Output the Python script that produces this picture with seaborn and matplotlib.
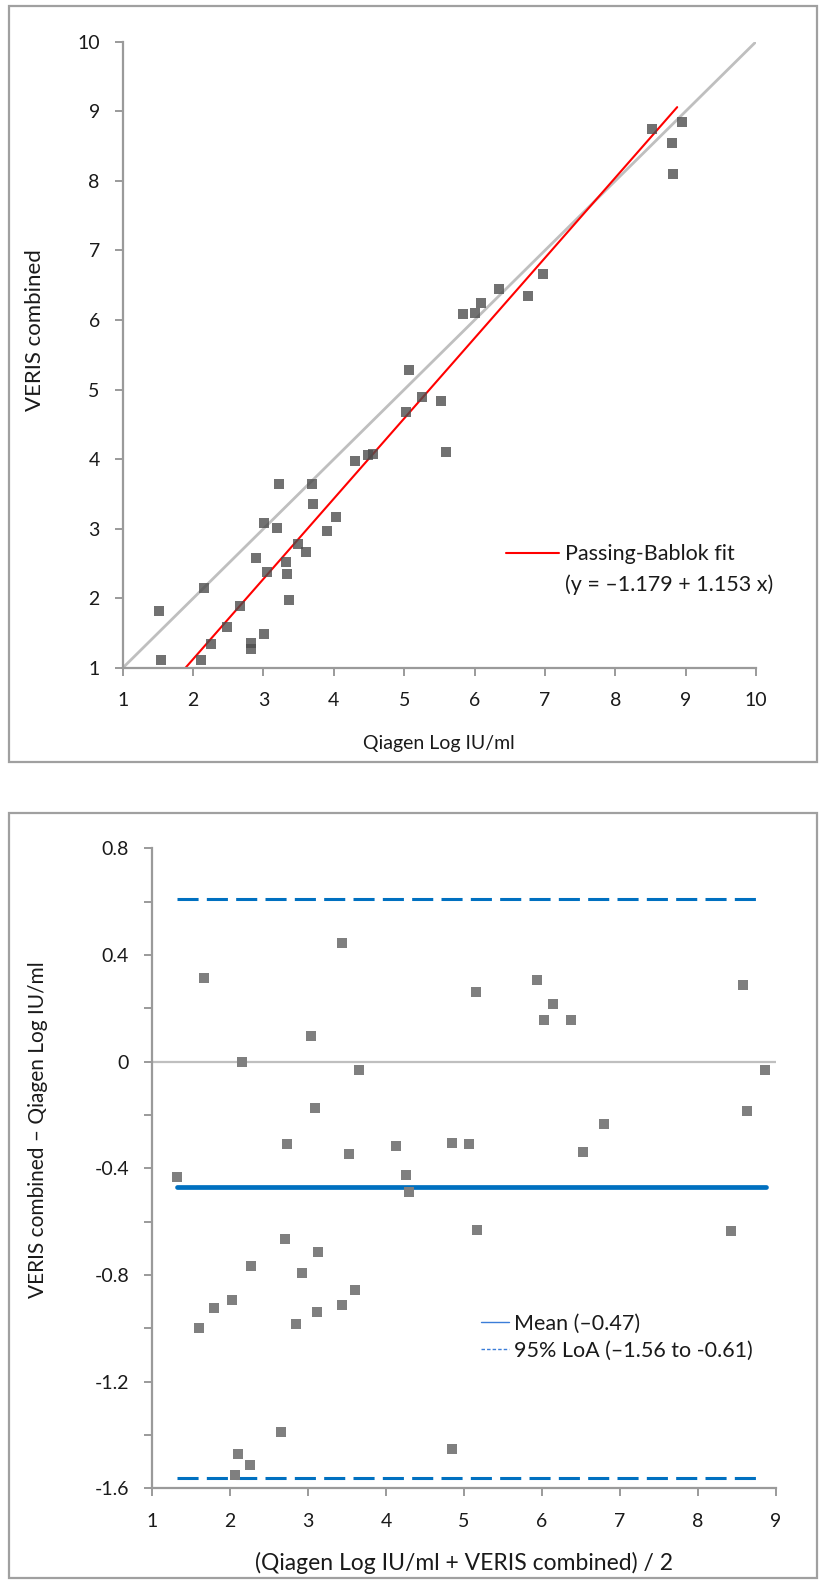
import numpy as np
import matplotlib
matplotlib.use("Agg")
import matplotlib.pyplot as plt
import seaborn as sns
from matplotlib.lines import Line2D
from matplotlib.patches import Rectangle

# ---- data ----
# panel 1: method comparison
qiagen = [1.52, 1.54, 2.16, 2.11, 2.26, 2.48, 2.66, 2.83, 2.83, 2.89,
          3.01, 3.01, 3.05, 3.19, 3.22, 3.32, 3.34, 3.37, 3.49, 3.60,
          3.69, 3.71, 3.90, 4.03, 4.30, 4.48, 4.56, 5.03, 5.07, 5.26,
          5.52, 5.60, 5.84, 6.01, 6.09, 6.35, 6.76, 6.97, 8.52, 8.95,
          8.81, 8.82]
veris = [1.82, 1.11, 2.15, 1.11, 1.34, 1.59, 1.89, 1.36, 1.28, 2.58,
         1.49, 3.09, 2.38, 3.01, 3.65, 2.53, 2.35, 1.97, 2.78, 2.66,
         3.65, 3.36, 2.97, 3.17, 3.98, 4.06, 4.07, 4.68, 5.28, 4.90,
         4.84, 4.10, 6.08, 6.10, 6.24, 6.44, 6.35, 6.66, 8.74, 8.85,
         8.55, 8.10]

identity_x = [1, 10]
fit_intercept = -1.179
fit_slope = 1.153
fit_x = np.array([1.89, 8.88])

# panel 2: Bland-Altman
ba_mean = [1.32, 1.67, 2.15, 3.04, 3.43, 3.09, 2.73, 3.53, 3.65, 4.13,
           4.26, 4.30, 5.16, 5.94, 6.14, 6.03, 6.37, 8.58, 8.86, 8.63,
           6.79, 6.53, 4.84, 5.06, 5.17, 8.42, 2.71, 3.13, 2.27, 2.92,
           3.60, 2.03, 1.80, 3.44, 3.12, 2.84, 1.60, 2.66, 2.10, 2.26,
           2.06, 4.85]
ba_diff = [-0.434, 0.313, -0.002, 0.096, 0.446, -0.174, -0.310, -0.347, -0.031, -0.315,
           -0.425, -0.488, 0.260, 0.305, 0.215, 0.155, 0.155, 0.286, -0.032, -0.186,
           -0.235, -0.339, -0.304, -0.310, -0.631, -0.636, -0.664, -0.714, -0.766, -0.791,
           -0.855, -0.893, -0.924, -0.912, -0.938, -0.984, -1.000, -1.390, -1.471, -1.512,
           -1.552, -1.452]

bias = -0.47
loa_upper = 0.61
loa_lower = -1.56
bias_x = [1.32, 8.87]
loa_x = [1.32, 8.74]

ba_yticks = [0.8, 0.6, 0.4, 0.2, 0, -0.2, -0.4, -0.6, -0.8, -1.0, -1.2, -1.4, -1.6]
ba_ylabels = ["0.8", "", "0.4", "", "0", "", "-0.4", "", "-0.8", "", "-1.2", "", "-1.6"]

# ---- style ----
sns.set_style("ticks")
plt.rcParams["font.family"] = ["Lato", "DejaVu Sans"]
plt.rcParams["axes.unicode_minus"] = False

GREY = "#9a9a9a"
TXT = "#1a1a1a"
BLUE = "#0070C0"
FS = 14

W, H = 826, 1582
fig = plt.figure(figsize=(W / 100, H / 100), dpi=100)


def px_axes(x0, y0, x1, y1):
    return fig.add_axes([x0 / W, 1 - y1 / H, (x1 - x0) / W, (y1 - y0) / H])


def px_box(x0, y0, x1, y1):
    fig.patches.append(Rectangle((x0 / W, 1 - y1 / H), (x1 - x0) / W, (y1 - y0) / H,
                                 transform=fig.transFigure, fill=False,
                                 edgecolor="#a0a0a0", linewidth=1.6))


def style_axes(ax):
    sns.despine(ax=ax)
    for s in ["left", "bottom"]:
        ax.spines[s].set_color(GREY)
        ax.spines[s].set_linewidth(1.6)
    ax.tick_params(axis="both", which="both", direction="out", length=5.5, width=1.4,
                   color=GREY, labelsize=FS, labelcolor=TXT)
    ax.tick_params(axis="y", pad=11)
    ax.tick_params(axis="x", pad=12)


px_box(9, 5.7, 817, 761.7)
px_box(9, 812.7, 817, 1578)

# ================= panel 1 =================
ax1 = px_axes(122.7, 41.7, 756, 668)
ax1.plot(identity_x, identity_x, color="#bfbfbf", linewidth=2.0, zorder=1)
ax1.plot(fit_x, fit_intercept + fit_slope * fit_x, color="#ff0000", linewidth=1.5, zorder=2)
sns.scatterplot(x=qiagen, y=veris, ax=ax1, marker="s", s=62, color="#4d4d4d",
                alpha=0.8, linewidth=0, zorder=3)
ax1.set_xlim(1, 10)
ax1.set_ylim(1, 10)
ax1.set_xticks(range(1, 11))
ax1.set_yticks(range(1, 11))
style_axes(ax1)
ax1.set_xlabel("Qiagen Log IU/ml", fontsize=14, color=TXT)
ax1.set_ylabel("VERIS combined", fontsize=16, color=TXT)
ax1.xaxis.set_label_coords(0.5, -0.107)
ax1.yaxis.set_label_coords(-0.123, 0.54)

h1 = [Line2D([], [], color="#ff0000", linewidth=1.5),
      Line2D([], [], color="none")]
ax1.legend(h1, ["Passing-Bablok fit", "(y = \u20131.179 + 1.153 x)"],
           loc="center left", bbox_to_anchor=(0.606, 0.157), frameon=False,
           fontsize=15.5, handlelength=2.45, handletextpad=0.28, borderpad=0,
           borderaxespad=0, labelspacing=0.47, labelcolor=TXT)

# ================= panel 2 =================
ax2 = px_axes(152, 848.3, 776, 1488.3)
ax2.axhline(0, color="#bfbfbf", linewidth=1.6, zorder=1)
ax2.plot(bias_x, [bias, bias], color=BLUE, linewidth=3.4, solid_capstyle="round", zorder=2)
ax2.plot(loa_x, [loa_upper, loa_upper], color=BLUE, linewidth=2.2,
         dashes=(6.9, 2.7), zorder=2)
ax2.plot(loa_x, [loa_lower, loa_lower], color=BLUE, linewidth=2.2,
         dashes=(6.9, 2.7), zorder=2)
sns.scatterplot(x=ba_mean, y=ba_diff, ax=ax2, marker="s", s=62, color="#7f7f7f",
                linewidth=0, zorder=3)
ax2.set_xlim(1, 9)
ax2.set_ylim(-1.6, 0.8)
ax2.set_xticks(range(1, 10))
ax2.set_yticks(ba_yticks)
ax2.set_yticklabels(ba_ylabels)
style_axes(ax2)
ax2.set_xlabel("(Qiagen Log IU/ml + VERIS combined) / 2", fontsize=16.5, color=TXT)
ax2.set_ylabel("VERIS combined \u2013 Qiagen Log IU/ml", fontsize=15, color=TXT)
ax2.xaxis.set_label_coords(0.5, -0.1)
ax2.yaxis.set_label_coords(-0.167, 0.561)

h2 = [Line2D([], [], color="#3b7dd8", linewidth=1.0),
      Line2D([], [], color="#3b7dd8", linewidth=1.0, dashes=(2.5, 1.5))]
ax2.legend(h2, ["Mean (\u20130.47)", "95% LoA (\u20131.56 to -0.61)"],
           loc="center left", bbox_to_anchor=(0.527, 0.236), frameon=False,
           fontsize=15.5, handlelength=1.3, handletextpad=0.25, borderpad=0,
           borderaxespad=0, labelspacing=0.35, labelcolor=TXT)

fig.savefig("out.png", dpi=100)
